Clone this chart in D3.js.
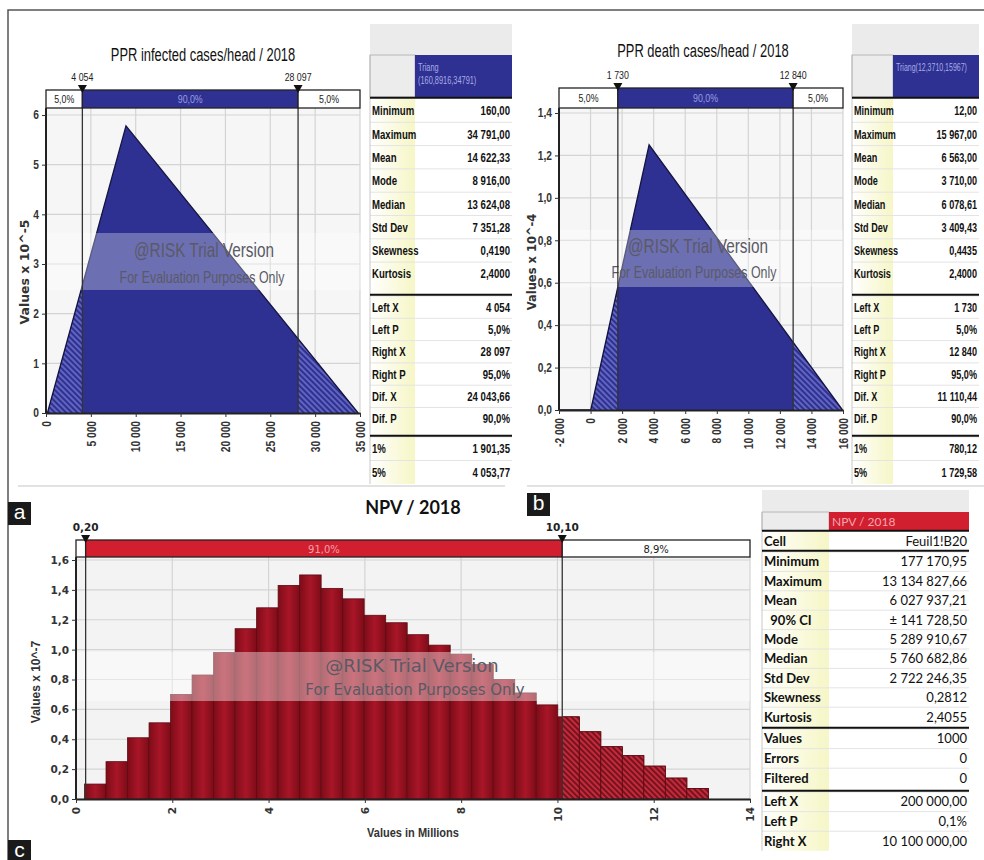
<!DOCTYPE html>
<html>
<head>
<meta charset="utf-8">
<script src="https://cdn.jsdelivr.net/npm/d3@7"></script>
<style>
body { margin: 0; background: #fff; }
svg { display: block; }
</style>
</head>
<body>
<script>
// ---------- data ----------
var infectedPts = [[160, 0], [8916, 5.78], [34791, 0]];
var infectedMarkers = [4054, 28097];
var infectedMarkerLabels = ["4 054", "28 097"];
var infectedPct = ["5,0%", "90,0%", "5,0%"];
var infectedXTicks = [0, 5000, 10000, 15000, 20000, 25000, 30000, 35000];
var infectedYTicks = [0, 1, 2, 3, 4, 5, 6];

var deathPts = [[-2000, 0], [12, 0], [3710, 1.25], [15967, 0]];
var deathMarkers = [1730, 12840];
var deathMarkerLabels = ["1 730", "12 840"];
var deathPct = ["5,0%", "90,0%", "5,0%"];
var deathXTicks = [-2000, 0, 2000, 4000, 6000, 8000, 10000, 12000, 14000, 16000];
var deathYTicks = [0, 0.2, 0.4, 0.6, 0.8, 1.0, 1.2, 1.4];

var npvRange = [0.177, 13.135];          // millions, min / max of the simulation
var npvHeights = [0.10, 0.25, 0.41, 0.51, 0.70, 0.83, 0.98, 1.14, 1.28, 1.43,
                  1.50, 1.41, 1.34, 1.23, 1.18, 1.10, 1.03, 0.97, 0.90, 0.80,
                  0.71, 0.63, 0.55, 0.45, 0.35, 0.29, 0.22, 0.14, 0.07];
var npvMarkers = [0.20, 10.10];
var npvMarkerLabels = ["0,20", "10,10"];
var npvPct = ["", "91,0%", "8,9%"];
var npvXTicks = [0, 2, 4, 6, 8, 10, 12, 14];
var npvYTicks = [0, 0.2, 0.4, 0.6, 0.8, 1.0, 1.2, 1.4, 1.6];

var statLabelsAB = ["Minimum", "Maximum", "Mean", "Mode", "Median", "Std Dev", "Skewness", "Kurtosis",
                    "Left X", "Left P", "Right X", "Right P", "Dif. X", "Dif. P", "1%", "5%"];
var statValuesA = ["160,00", "34 791,00", "14 622,33", "8 916,00", "13 624,08", "7 351,28", "0,4190", "2,4000",
                   "4 054", "5,0%", "28 097", "95,0%", "24 043,66", "90,0%", "1 901,35", "4 053,77"];
var statValuesB = ["12,00", "15 967,00", "6 563,00", "3 710,00", "6 078,61", "3 409,43", "0,4435", "2,4000",
                   "1 730", "5,0%", "12 840", "95,0%", "11 110,44", "90,0%", "780,12", "1 729,58"];
var statLabelsC = ["Cell", "Minimum", "Maximum", "Mean", "  90% CI", "Mode", "Median", "Std Dev", "Skewness",
                   "Kurtosis", "Values", "Errors", "Filtered", "Left X", "Left P", "Right X"];
var statValuesC = ["Feuil1!B20", "177 170,95", "13 134 827,66", "6 027 937,21", "\u00b1 141 728,50",
                   "5 289 910,67", "5 760 682,86", "2 722 246,35", "0,2812", "2,4055", "1000", "0", "0",
                   "200 000,00", "0,1%", "10 100 000,00"];

// ---------- setup ----------
var LIB = "'Liberation Sans',Arial,sans-serif";
var DJV = "'DejaVu Sans',Verdana,sans-serif";
var BLUE = "#2e3192", RED = "#d11f2f";

var loc = d3.formatLocale({decimal: ",", thousands: "\u00a0", grouping: [3], currency: ["", ""], minus: "-"});
var fmtThou = loc.format(",");
var fmtOne = loc.format(".1f");
var fmtInt = loc.format("d");

// condense text horizontally around its anchor point
function squeeze(sel, sx) {
  if (sx == 1) return;
  sel.each(function () {
    var e = d3.select(this);
    var x = +e.attr("x") || 0, y = +e.attr("y") || 0;
    var t = e.attr("transform") || "";
    e.attr("x", 0).attr("y", 0)
      .attr("transform", t + " translate(" + x + "," + y + ") scale(" + sx + ",1)");
  });
}

var svg = d3.select("body").append("svg").attr("width", 984).attr("height", 860);
svg.append("rect").attr("width", 984).attr("height", 860).attr("fill", "#fff");

var defs = svg.append("defs");
function hatch(id, bg, fg) {
  var p = defs.append("pattern").attr("id", id).attr("width", 4).attr("height", 4)
    .attr("patternUnits", "userSpaceOnUse").attr("patternTransform", "rotate(-45)");
  p.append("rect").attr("width", 4).attr("height", 4).attr("fill", bg);
  p.append("line").attr("x1", 1).attr("y1", 0).attr("x2", 1).attr("y2", 4)
    .attr("stroke", fg).attr("stroke-width", 1.3);
}
hatch("hatchBlue", BLUE, "#7d80d6");
hatch("hatchRed", "#c52a3b", "#4a0810");

var gr = defs.append("linearGradient").attr("id", "barGrad").attr("x1", 0).attr("x2", 1).attr("y1", 0).attr("y2", 0);
gr.append("stop").attr("offset", "0%").attr("stop-color", "#7e0c18");
gr.append("stop").attr("offset", "50%").attr("stop-color", "#a81628");
gr.append("stop").attr("offset", "100%").attr("stop-color", "#7e0c18");

var yel = defs.append("linearGradient").attr("id", "yellowCol").attr("x1", 0).attr("x2", 1).attr("y1", 0).attr("y2", 0);
yel.append("stop").attr("offset", "0%").attr("stop-color", "#ffffff");
yel.append("stop").attr("offset", "100%").attr("stop-color", "#f6f6c6");

// frame
svg.append("path").attr("d", "M8,860V10H984").attr("fill", "none").attr("stroke", "#555").attr("stroke-width", 1.5);
svg.append("line").attr("x1", 18).attr("x2", 505).attr("y1", 486).attr("y2", 486).attr("stroke", "#e2e2e2").attr("stroke-width", 2);
svg.append("line").attr("x1", 527).attr("x2", 984).attr("y1", 486).attr("y2", 486).attr("stroke", "#e2e2e2").attr("stroke-width", 2);

// ---------- shared chart pieces ----------
function chartFrame(o, x, y) {
  var g = o.g;
  g.append("rect").attr("x", o.x0).attr("y", o.barBot).attr("width", o.x1 - o.x0)
    .attr("height", o.yBottom - o.barBot).attr("fill", o.bg);
  g.selectAll(".gx").data(o.xTicks).enter().append("line")
    .attr("x1", d => x(d)).attr("x2", d => x(d)).attr("y1", o.barBot).attr("y2", o.yBottom)
    .attr("stroke", "#d4d4d4").attr("stroke-width", 1.2);
  g.selectAll(".gy").data(o.yTicks).enter().append("line")
    .attr("x1", o.x0).attr("x2", o.x1).attr("y1", d => y(d)).attr("y2", d => y(d))
    .attr("stroke", "#d4d4d4").attr("stroke-width", 1.2);
}

function chartOverlay(o, x, y) {
  var g = o.g;
  // watermark
  g.append("rect").attr("x", o.x0).attr("y", o.wm.top).attr("width", o.wm.right - o.x0)
    .attr("height", o.wm.bot - o.wm.top).attr("fill", "#fff").attr("opacity", o.wm.op);
  var w1 = g.append("text").attr("x", o.wm.cx).attr("y", o.wm.y1).attr("text-anchor", "middle")
    .attr("font-family", o.wm.font).attr("font-size", o.wm.s1).attr("fill", "#5a5a66")
    .text("@RISK Trial Version");
  var w2 = g.append("text").attr("x", o.wm.cx + (o.wm.dx2 || 0)).attr("y", o.wm.y2).attr("text-anchor", "middle")
    .attr("font-family", o.wm.font).attr("font-size", o.wm.s2).attr("fill", "#5a5a66")
    .text("For Evaluation Purposes Only");
  squeeze(w1, o.wm.sx);
  squeeze(w2, o.wm.sx);

  // marker lines
  g.selectAll(".ml").data(o.markers).enter().append("line")
    .attr("x1", d => x(d)).attr("x2", d => x(d)).attr("y1", o.barBot).attr("y2", o.yBottom)
    .attr("stroke", "#333").attr("stroke-width", 1.3);

  // axes
  var xa = g.append("g").attr("transform", "translate(0," + o.yBottom + ")")
    .call(d3.axisBottom(x).tickValues(o.xTicks).tickFormat(o.fmtX).tickSize(4).tickSizeOuter(0));
  xa.select(".domain").attr("stroke", "#222").attr("stroke-width", 2);
  xa.selectAll(".tick line").attr("stroke", "#333");
  var xt = xa.selectAll("text").attr("transform", "rotate(-90)").attr("text-anchor", "end")
    .attr("x", -8).attr("y", 0).attr("dy", "0.35em")
    .attr("font-family", o.tickFont).attr("font-size", o.tickSize).attr("font-weight", "bold").attr("fill", "#333");
  squeeze(xt, o.tickSx);

  var ya = g.append("g").attr("transform", "translate(" + o.x0 + ",0)")
    .call(d3.axisLeft(y).tickValues(o.yTicks).tickFormat(o.fmtY).tickSize(4).tickSizeOuter(0));
  ya.select(".domain").attr("stroke", "#222").attr("stroke-width", 2)
    .attr("d", "M0," + o.barBot + "V" + o.yBottom);
  ya.selectAll(".tick line").attr("stroke", "#333");
  var yt = ya.selectAll("text").attr("font-family", o.tickFont).attr("font-size", o.tickSize)
    .attr("font-weight", "bold").attr("fill", "#333");
  squeeze(yt, o.tickSx);

  // percentage bar
  var d0 = x.domain()[0], d1 = x.domain()[1];
  var segs = [[d0, o.markers[0]], [o.markers[0], o.markers[1]], [o.markers[1], d1]];
  g.selectAll(".seg").data(segs).enter().append("rect")
    .attr("x", d => x(d[0])).attr("width", d => x(d[1]) - x(d[0]))
    .attr("y", o.barTop).attr("height", o.barBot - o.barTop)
    .attr("fill", (d, i) => i == 1 ? o.barColor : "#fff")
    .attr("stroke", "#222").attr("stroke-width", 1.3);
  var st = g.selectAll(".segt").data(segs).enter().append("text")
    .attr("x", d => (x(d[0]) + x(d[1])) / 2).attr("y", (o.barTop + o.barBot) / 2 + 4)
    .attr("text-anchor", "middle").attr("font-family", o.tickFont).attr("font-size", o.pctSize)
    .attr("fill", (d, i) => i == 1 ? o.midText : "#222")
    .text((d, i) => o.pct[i]);
  squeeze(st, o.sx);

  // markers
  g.selectAll(".mk").data(o.markers).enter().append("path")
    .attr("d", d => "M" + (x(d) - 4.5) + "," + (o.barTop - 5) + "h9l-4.5,8z").attr("fill", "#111");
  var mt = g.selectAll(".mkl").data(o.markers).enter().append("text")
    .attr("x", d => x(d)).attr("y", o.barTop - 9).attr("text-anchor", "middle")
    .attr("font-family", o.tickFont).attr("font-size", o.markSize).attr("font-weight", o.markWeight).attr("fill", "#222")
    .text((d, i) => o.markerLabels[i]);
  squeeze(mt, o.sx);

  // titles
  var tt = g.append("text").attr("x", o.titleX).attr("y", o.titleY).attr("text-anchor", "middle")
    .attr("font-family", o.titleFont).attr("font-size", o.titleSize).attr("font-weight", o.titleWeight)
    .attr("fill", "#111").text(o.title);
  squeeze(tt, o.titleSx);
  g.append("text").attr("transform", "translate(" + o.ylab.x + "," + o.ylab.y + ") rotate(-90)")
    .attr("text-anchor", "middle").attr("font-family", o.ylab.font).attr("font-size", o.ylab.size)
    .attr("font-weight", "bold").attr("fill", "#333").text(o.ylab.text);
}

function drawTriang(o) {
  o.g = svg.append("g");
  var x = d3.scaleLinear().domain(o.xDomain).range([o.x0, o.x1]);
  var y = d3.scaleLinear().domain(o.yDomain).range([o.yBottom, o.yTop]);
  chartFrame(o, x, y);

  var area = d3.area().x(d => x(d[0])).y0(y(0)).y1(d => y(d[1]));
  o.g.append("path").datum(o.pts).attr("d", area).attr("fill", BLUE);

  // hatched tails outside the markers
  var cp = defs.append("clipPath").attr("id", o.id);
  cp.append("rect").attr("x", 0).attr("y", 0).attr("width", x(o.markers[0])).attr("height", 860);
  cp.append("rect").attr("x", x(o.markers[1])).attr("y", 0).attr("width", 984).attr("height", 860);
  o.g.append("path").datum(o.pts).attr("d", area).attr("fill", "url(#hatchBlue)").attr("clip-path", "url(#" + o.id + ")");

  o.g.append("path").datum(o.pts).attr("d", d3.line().x(d => x(d[0])).y(d => y(d[1])))
    .attr("fill", "none").attr("stroke", "#141440").attr("stroke-width", 1.3);

  chartOverlay(o, x, y);
}

function drawHist(o) {
  o.g = svg.append("g");
  var x = d3.scaleLinear().domain(o.xDomain).range([o.x0, o.x1]);
  var y = d3.scaleLinear().domain(o.yDomain).range([o.yBottom, o.yTop]);
  chartFrame(o, x, y);

  var w = (o.range[1] - o.range[0]) / o.heights.length;
  var bins = o.heights.map((h, i) => ({a: o.range[0] + i * w, b: o.range[0] + (i + 1) * w, h: h}));

  o.g.selectAll(".bar").data(bins).enter().append("rect")
    .attr("x", d => x(d.a)).attr("width", d => x(d.b) - x(d.a))
    .attr("y", d => y(d.h)).attr("height", d => y(0) - y(d.h))
    .attr("fill", "url(#barGrad)").attr("stroke", "#5e0a12").attr("stroke-width", 0.8);

  var cp = defs.append("clipPath").attr("id", o.id);
  cp.append("rect").attr("x", x(o.markers[1])).attr("y", 0).attr("width", 984).attr("height", 860);
  o.g.selectAll(".hb").data(bins).enter().append("rect")
    .attr("x", d => x(d.a)).attr("width", d => x(d.b) - x(d.a))
    .attr("y", d => y(d.h)).attr("height", d => y(0) - y(d.h))
    .attr("fill", "url(#hatchRed)").attr("stroke", "#5e0a12").attr("stroke-width", 0.8)
    .attr("clip-path", "url(#" + o.id + ")");

  chartOverlay(o, x, y);
}

// ---------- stats tables ----------
function drawTable(t) {
  var g = svg.append("g");
  g.append("rect").attr("x", t.x0).attr("y", t.grayTop).attr("width", t.x1 - t.x0)
    .attr("height", t.headTop - t.grayTop).attr("fill", "#ebebeb");
  g.append("rect").attr("x", t.x0).attr("y", t.headTop).attr("width", t.labelW)
    .attr("height", t.headBot - t.headTop).attr("fill", "#ececec").attr("stroke", "#aaa").attr("stroke-width", 0.8);
  g.append("rect").attr("x", t.x0 + t.labelW).attr("y", t.headTop).attr("width", t.x1 - t.x0 - t.labelW)
    .attr("height", t.headBot - t.headTop).attr("fill", t.headFill);
  t.headText.forEach(function (s, i) {
    var h = g.append("text").attr("x", t.x0 + t.labelW + 3).attr("y", t.headTextY + i * t.headLineH)
      .attr("font-family", t.font).attr("font-size", t.headSize).attr("fill", t.headColor).text(s);
    squeeze(h, t.sx);
  });

  var rows = [];
  var k = 0;
  t.groups.forEach(function (gp) {
    for (var j = 0; j < gp.n; j++) {
      rows.push({top: gp.start + j * gp.h, h: gp.h, label: t.labels[k], value: t.values[k]});
      k++;
    }
  });
  var bodyTop = t.groups[0].start;
  var last = t.groups[t.groups.length - 1];
  var bodyBot = last.start + last.n * last.h;
  g.append("rect").attr("x", t.x0).attr("y", bodyTop).attr("width", t.labelW)
    .attr("height", bodyBot - bodyTop).attr("fill", "url(#yellowCol)");
  g.selectAll(".rl").data(rows.slice(1)).enter().append("line")
    .attr("x1", t.x0).attr("x2", t.x1).attr("y1", d => d.top).attr("y2", d => d.top)
    .attr("stroke", "#e4e4e4").attr("stroke-width", 1);
  g.append("line").attr("x1", t.x0).attr("x2", t.x0).attr("y1", t.headTop).attr("y2", bodyBot)
    .attr("stroke", "#bbb").attr("stroke-width", 0.8);
  var lt = g.selectAll(".lab").data(rows).enter().append("text")
    .attr("x", t.x0 + 2).attr("y", d => d.top + d.h / 2 + t.fontSize * 0.36)
    .attr("font-family", t.font).attr("font-size", t.fontSize).attr("font-weight", "bold")
    .attr("fill", "#111").attr("xml:space", "preserve").text(d => d.label);
  var vt = g.selectAll(".val").data(rows).enter().append("text")
    .attr("x", t.x1 - 2).attr("y", d => d.top + d.h / 2 + t.fontSize * 0.36).attr("text-anchor", "end")
    .attr("font-family", t.font).attr("font-size", t.fontSize).attr("font-weight", t.valWeight)
    .attr("fill", "#111").text(d => d.value);
  squeeze(lt, t.sx);
  squeeze(vt, t.sx);
  var seps = t.groups.map(gp => gp.start - 1.2);
  g.selectAll(".sep").data(seps).enter().append("line")
    .attr("x1", t.x0).attr("x2", t.x1).attr("y1", d => d).attr("y2", d => d)
    .attr("stroke", "#111").attr("stroke-width", 2);
}

// ---------- panel a ----------
drawTriang({
  id: "clipA", x0: 46, x1: 360, yTop: 115, yBottom: 413, barTop: 90, barBot: 108,
  xDomain: [0, 35000], yDomain: [0, 6], xTicks: infectedXTicks, yTicks: infectedYTicks,
  fmtX: fmtThou, fmtY: fmtInt, pts: infectedPts, markers: infectedMarkers,
  markerLabels: infectedMarkerLabels, pct: infectedPct, bg: "#f6f6f6",
  barColor: BLUE, midText: "#9a9ce0", tickFont: LIB, tickSize: 12, tickSx: 0.85, sx: 0.8, pctSize: 11,
  markSize: 11, markWeight: "normal",
  title: "PPR infected cases/head / 2018", titleX: 203, titleY: 61, titleFont: LIB, titleSize: 19, titleWeight: "normal", titleSx: 0.68,
  ylab: {x: 29, y: 272, text: "Values x 10^-5", font: DJV, size: 12.5},
  wm: {top: 233, bot: 290, right: 368, op: 0.3, cx: 204, y1: 257, y2: 283, dx2: -2, s1: 21, s2: 17, font: LIB, sx: 0.73}
});

// ---------- panel b ----------
drawTriang({
  id: "clipB", x0: 559, x1: 843, yTop: 113, yBottom: 410, barTop: 88, barBot: 108,
  xDomain: [-2000, 16000], yDomain: [0, 1.4], xTicks: deathXTicks, yTicks: deathYTicks,
  fmtX: fmtThou, fmtY: fmtOne, pts: deathPts, markers: deathMarkers,
  markerLabels: deathMarkerLabels, pct: deathPct, bg: "#f6f6f6",
  barColor: BLUE, midText: "#9a9ce0", tickFont: LIB, tickSize: 12, tickSx: 0.85, sx: 0.8, pctSize: 11,
  markSize: 11, markWeight: "normal",
  title: "PPR death cases/head / 2018", titleX: 703, titleY: 57, titleFont: LIB, titleSize: 19, titleWeight: "normal", titleSx: 0.68,
  ylab: {x: 536, y: 262, text: "Values x 10^-4", font: DJV, size: 11.5},
  wm: {top: 230, bot: 287, right: 843, op: 0.3, cx: 698, y1: 253, y2: 278, dx2: -4, s1: 21, s2: 17, font: LIB, sx: 0.73}
});

// ---------- panel c ----------
drawHist({
  id: "clipC", x0: 76, x1: 750, yTop: 560, yBottom: 799, barTop: 540, barBot: 557,
  xDomain: [0, 14], yDomain: [0, 1.6], xTicks: npvXTicks, yTicks: npvYTicks,
  fmtX: fmtInt, fmtY: fmtOne, range: npvRange, heights: npvHeights, markers: npvMarkers,
  markerLabels: npvMarkerLabels, pct: npvPct, bg: "#f3f3f3",
  barColor: RED, midText: "#f2a0aa", tickFont: DJV, tickSize: 10.5, tickSx: 1, sx: 1, pctSize: 10,
  markSize: 10.5, markWeight: "bold",
  title: "NPV / 2018", titleX: 413, titleY: 514, titleFont: "Lato,'DejaVu Sans',sans-serif", titleSize: 18, titleWeight: "bold", titleSx: 1,
  ylab: {x: 40, y: 682, text: "Values x 10^-7", font: LIB, size: 12},
  wm: {top: 652, bot: 701, right: 750, op: 0.4, cx: 412, y1: 672, y2: 695, dx2: 3, s1: 18, s2: 15, font: DJV, sx: 1}
});
squeeze(svg.append("text").attr("x", 413).attr("y", 837).attr("text-anchor", "middle")
  .attr("font-family", LIB).attr("font-size", 12).attr("font-weight", "bold").attr("fill", "#333")
  .text("Values in Millions"), 0.92);

// ---------- tables ----------
var abGroups = [{start: 99, h: 23.3, n: 8}, {start: 296, h: 22.3, n: 6}, {start: 437, h: 23.5, n: 2}];
drawTable({
  x0: 370, x1: 512, labelW: 45, grayTop: 24, headTop: 55, headBot: 97,
  headFill: BLUE, headText: ["Triang", "(160,8916,34791)"], headTextY: 71, headLineH: 13, headSize: 10, headColor: "#a9abe6",
  labels: statLabelsAB, values: statValuesA, groups: abGroups, font: LIB, fontSize: 13, valWeight: "bold", sx: 0.74
});
drawTable({
  x0: 852, x1: 979, labelW: 41, grayTop: 24, headTop: 55, headBot: 97,
  headFill: BLUE, headText: ["Triang(12,3710,15967)"], headTextY: 71, headLineH: 13, headSize: 10, headColor: "#a9abe6",
  labels: statLabelsAB, values: statValuesB, groups: abGroups, font: LIB, fontSize: 13, valWeight: "bold", sx: 0.7
});
drawTable({
  x0: 762, x1: 969, labelW: 67, grayTop: 490, headTop: 512, headBot: 531,
  headFill: RED, headText: ["NPV / 2018"], headTextY: 526, headLineH: 13, headSize: 12, headColor: "#f4a6ae",
  labels: statLabelsC, values: statValuesC,
  groups: [{start: 532, h: 19, n: 1}, {start: 552, h: 19.4, n: 9}, {start: 729, h: 19.6, n: 3}, {start: 792, h: 19.6, n: 3}],
  font: "Lato,'DejaVu Sans',sans-serif", fontSize: 13, valWeight: "normal", sx: 1
});

// ---------- panel letters ----------
var letters = [["a", 8, 502], ["b", 527, 493], ["c", 8, 840]];
svg.selectAll(".letter").data(letters).enter().append("rect")
  .attr("x", d => d[1]).attr("y", d => d[2]).attr("width", 23).attr("height", 23).attr("fill", "#1a1a1a");
svg.selectAll(".lettert").data(letters).enter().append("text")
  .attr("x", d => d[1] + 11.5).attr("y", d => d[2] + 17).attr("text-anchor", "middle")
  .attr("font-family", LIB).attr("font-size", 21).attr("fill", "#fff")
  .text(d => d[0]);
</script>
</body>
</html>
